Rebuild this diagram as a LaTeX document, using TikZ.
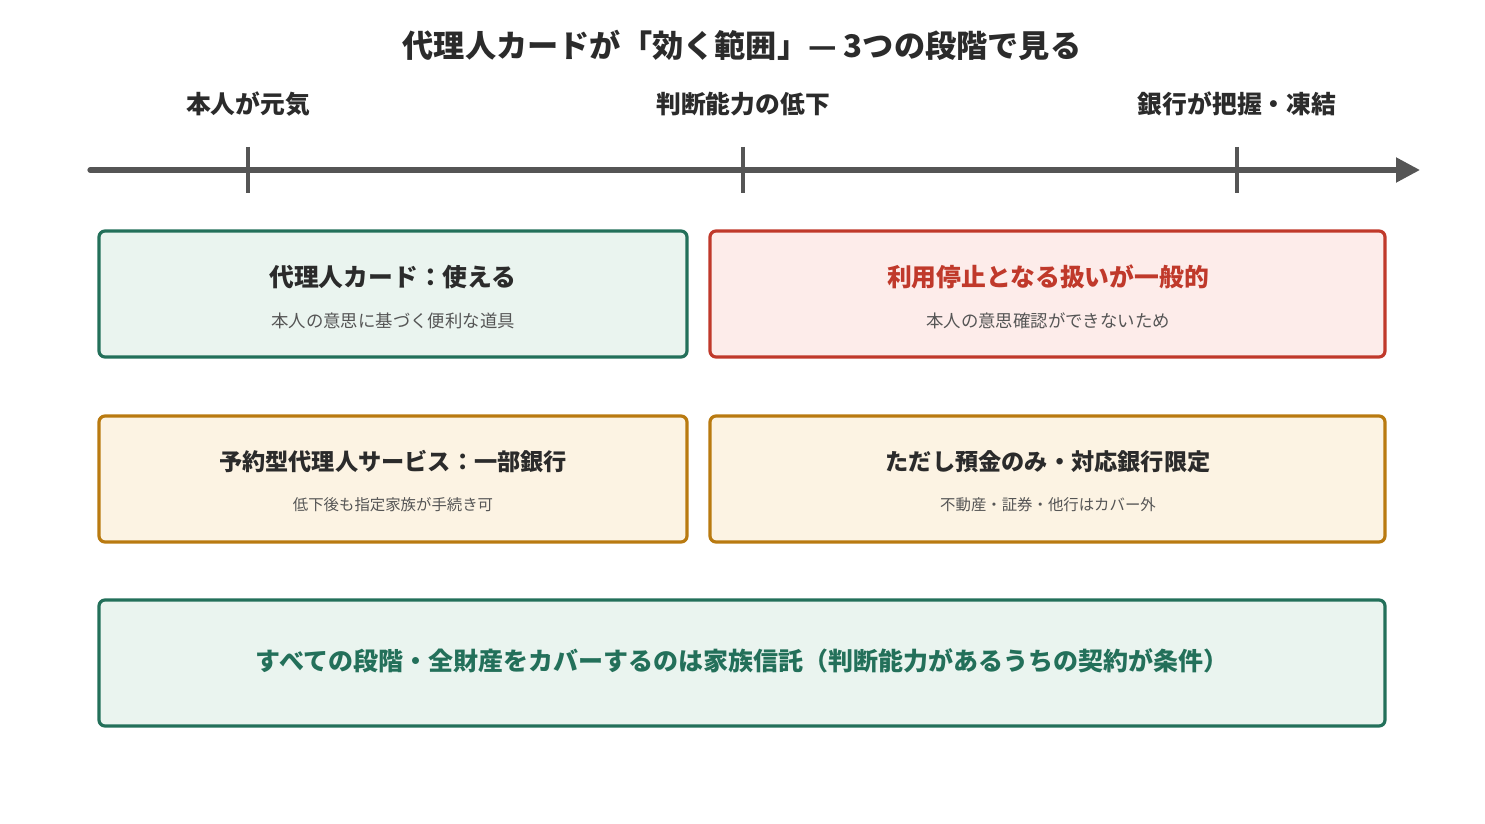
\documentclass[tikz,border=0pt]{standalone}
\usepackage{fontspec}
\setmainfont{Noto Sans CJK JP}
\usetikzlibrary{arrows.meta}
\definecolor{axis}{HTML}{555555}
\definecolor{grn}{HTML}{23705A}
\definecolor{grnbg}{HTML}{EAF4EF}
\definecolor{rd}{HTML}{C0392B}
\definecolor{rdbg}{HTML}{FDECEA}
\definecolor{org}{HTML}{B97A10}
\definecolor{orgbg}{HTML}{FCF3E3}
\definecolor{txt}{HTML}{2B2B2B}
\definecolor{sub}{HTML}{555555}
\tikzset{
  box/.style={draw, line width=1.6pt, rounded corners=3pt, inner sep=0pt},
  head/.style={font=\bfseries\fontsize{12.4}{14}\selectfont, text=txt},
  note/.style={font=\fontsize{8.7}{10}\selectfont, text=sub},
  tick/.style={line width=2.2pt, draw=axis},
}
\begin{document}
\begin{tikzpicture}[x=0.5pt,y=-0.5pt]
  \useasboundingbox (0,0) rectangle (1485,824);
  \node[font=\bfseries\fontsize{15.6}{18}\selectfont, text=txt] (title) at (742,45) {代理人カードが「効く範囲」— 3つの段階で見る};

  % timeline
  \coordinate (t0) at (90,170);
  \coordinate (t1) at (1420,170);
  \draw[line width=2.6pt, draw=axis, line cap=round, -{Triangle[length=12pt,width=12pt]}] (t0) -- (t1);
  \foreach \x/\name/\lab in {248/s1/本人が元気, 743/s2/判断能力の低下, 1237/s3/銀行が把握・凍結} {
    \coordinate (\name t) at (\x,147);
    \coordinate (\name b) at (\x,193);
    \draw[tick] (\name t) -- (\name b);
    \node[head] (\name) at (\x,104) {\lab};
  }

  % boxes
  \draw[box, draw=grn, fill=grnbg] (99,231) rectangle (687,357);
  \node[head] (c1) at (393,277) {代理人カード：使える};
  \node[note] (c1n) at (393,321) {本人の意思に基づく便利な道具};

  \draw[box, draw=rd, fill=rdbg] (710,231) rectangle (1385,357);
  \node[head, text=rd] (c2) at (1048,277) {利用停止となる扱いが一般的};
  \node[note] (c2n) at (1048,321) {本人の意思確認ができないため};

  \draw[box, draw=org, fill=orgbg] (99,416) rectangle (687,542);
  \node[head, font=\bfseries\fontsize{11.6}{14}\selectfont] (c3) at (393,462) {予約型代理人サービス：一部銀行};
  \node[note, font=\fontsize{7.7}{9}\selectfont] (c3n) at (393,505) {低下後も指定家族が手続き可};

  \draw[box, draw=org, fill=orgbg] (710,416) rectangle (1385,542);
  \node[head, font=\bfseries\fontsize{11.6}{14}\selectfont] (c4) at (1048,462) {ただし預金のみ・対応銀行限定};
  \node[note, font=\fontsize{7.7}{9}\selectfont] (c4n) at (1048,505) {不動産・証券・他行はカバー外};

  \draw[box, draw=grn, fill=grnbg] (99,600) rectangle (1385,726);
  \node[head, text=grn, font=\bfseries\fontsize{12.5}{14}\selectfont] (c5) at (742,661) {すべての段階・全財産をカバーするのは家族信託（判断能力があるうちの契約が条件）};
\end{tikzpicture}
\end{document}
